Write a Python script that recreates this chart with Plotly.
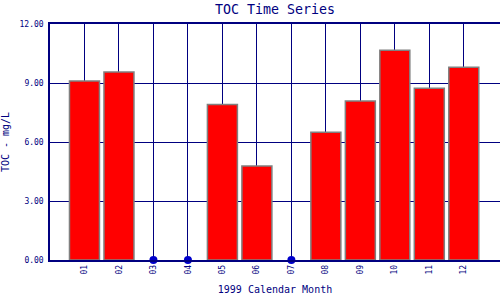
import plotly.graph_objects as go

months = ["01", "02", "03", "04", "05", "06", "07", "08", "09", "10", "11", "12"]
toc = [9.10, 9.56, None, None, 7.91, 4.78, None, 6.49, 8.08, 10.66, 8.73, 9.80]
y_ticks = [0, 3, 6, 9, 12]
y_tick_labels = ["0.00", "3.00", "6.00", "9.00", "12.00"]

missing_x = [m for m, v in zip(months, toc) if v is None]
missing_y = [0 for _ in missing_x]

navy = "#000080"
font = "DejaVu Sans Mono"

fig = go.Figure()
fig.add_trace(go.Bar(
    x=months, y=toc,
    marker=dict(color="#FF0000", line=dict(color="#808080", width=1.5)),
    width=0.87, showlegend=False,
))
fig.add_trace(go.Scatter(
    x=missing_x, y=missing_y, mode="markers",
    marker=dict(color="#0000CC", size=8),
    cliponaxis=False, showlegend=False,
))

fig.update_layout(
    width=500, height=300,
    margin=dict(l=50, r=0, t=24, b=40),
    paper_bgcolor="white", plot_bgcolor="white",
    title=dict(text="TOC Time Series", xref="paper", x=0.5, xanchor="center",
               yref="container", y=0.97, yanchor="middle",
               font=dict(family=font, size=13.3, color=navy)),
)
fig.update_xaxes(
    type="category", range=[-1, 12.05],
    tickangle=-90, tickfont=dict(family=font, size=8, color=navy),
    showgrid=True, gridcolor=navy, gridwidth=1,
    showline=True, linecolor=navy, linewidth=1.5, mirror=True,
    ticks="", ticklen=0,
    title=dict(text="1999 Calendar Month", font=dict(family=font, size=10, color=navy), standoff=12),
)
fig.update_yaxes(
    range=[0, 12], tickvals=y_ticks, ticktext=y_tick_labels,
    tickfont=dict(family=font, size=8, color=navy),
    showgrid=True, gridcolor=navy, gridwidth=1,
    showline=True, linecolor=navy, linewidth=1.5,
    zeroline=False, ticks="", ticklabelstandoff=3,
    title=dict(text="TOC - mg/L", font=dict(family=font, size=10, color=navy), standoff=10),
)

fig.write_html("out.html")
